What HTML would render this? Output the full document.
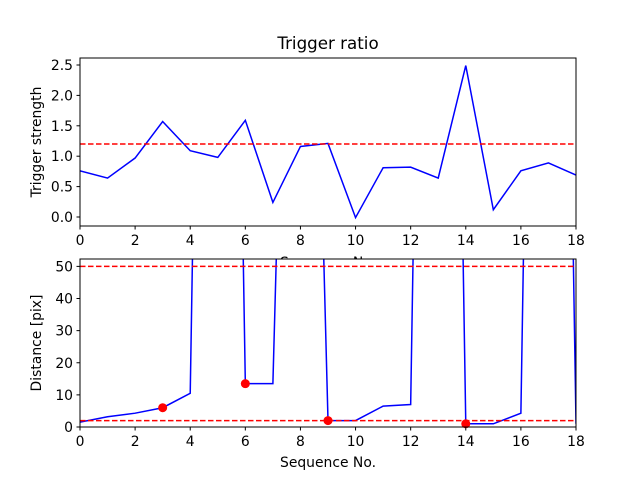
<!DOCTYPE html>
<html><head><meta charset="utf-8"><style>
body{margin:0;background:#fff}
svg{display:block;font-family:"DejaVu Sans","Liberation Sans",sans-serif}
</style></head><body>
<svg id="chart" width="640" height="480">
<defs>
<clipPath id="c1"><rect x="80" y="58" width="496" height="168"/></clipPath>
<clipPath id="c2"><rect x="80" y="259" width="496" height="168"/></clipPath>
</defs>
</svg>
<script>
const seq = [0,1,2,3,4,5,6,7,8,9,10,11,12,13,14,15,16,17,18];
const strength = [0.76,0.64,0.97,1.57,1.09,0.98,1.59,0.24,1.16,1.21,-0.01,0.81,0.82,0.64,2.49,0.12,0.76,0.89,0.69];
const strengthThreshold = [1.2];
const distance = [1.5,3.2,4.3,6,10.5,530,13.5,13.5,330,2,2,6.5,7,530,1,1,4.3,530,1];
const markerIdx = [3,6,9,14];
const distThresholds = [50,2];
const xTicks = [0,2,4,6,8,10,12,14,16,18];
const yTicksTop = [0,0.5,1,1.5,2,2.5];
const yTicksBot = [0,10,20,30,40,50];

const NS="http://www.w3.org/2000/svg";
const svg=document.getElementById('chart');
function mk(t,a,p){const e=document.createElementNS(NS,t);for(const k in a)e.setAttribute(k,a[k]);(p||svg).appendChild(e);return e;}
const L=80,R=576,FS=13.9;
const xs=v=>L+(v-0)/(18-0)*(R-L);

function panel(top,ymin,ymax,name){
  const bot=top+168;
  const ys=v=>bot-(v-ymin)/(ymax-ymin)*168;
  const g=mk('g',{});
  
  
  mk('rect',{x:L,y:top,width:R-L,height:168,fill:'#fff'},g);
  return {g,ys,bot,top};
}
function axes(p,yt,fmt,ylabel,name){
  const g=p.g;
  mk('rect',{x:L,y:p.top,width:R-L,height:168,fill:'none',stroke:'#000','stroke-width':1},g);
  xTicks.forEach(t=>{
    const x=xs(t);
    mk('line',{x1:x,x2:x,y1:p.bot,y2:p.bot+3.5,stroke:'#000'},g);
    const tx=mk('text',{x:x,y:p.bot+19,'font-size':FS,'text-anchor':'middle'},g);
    
    
    tx.textContent=t;
  });
  yt.forEach(t=>{
    const y=p.ys(t);
    mk('line',{x1:L-3.5,x2:L,y1:y,y2:y,stroke:'#000'},g);
    const tx=mk('text',{x:L-7,y:y+5,'font-size':FS,'text-anchor':'end'},g);
    
    
    tx.textContent=fmt(t);
  });
  const yl=mk('text',{x:0,y:0,'font-size':FS,'text-anchor':'middle',transform:`translate(41,${p.top+84}) rotate(-90)`},g);
  
  
  yl.textContent=ylabel;
}
const p1=panel(58,-0.148,2.615,'trigger-panel');
const xl1=mk('text',{x:328,y:267,'font-size':FS,'text-anchor':'middle'});


xl1.textContent='Sequence No.';
let d=seq.map((s,i)=>(i?'L':'M')+xs(s)+','+p1.ys(strength[i])).join('');
const l1=mk('path',{d,fill:'none',stroke:'#0000ff','stroke-width':1.5,'clip-path':'url(#c1)'},p1.g);


strengthThreshold.forEach(v=>{
  const h=mk('line',{x1:L,x2:R,y1:p1.ys(v),y2:p1.ys(v),stroke:'#ff0000','stroke-width':1.5,'stroke-dasharray':'5.5,2.5'},p1.g);
  
  
});
axes(p1,yTicksTop,v=>v.toFixed(1),'Trigger strength','top-y-axis-title');
const title=mk('text',{x:328,y:49,'font-size':16.7,'text-anchor':'middle'});


title.textContent='Trigger ratio';

const p2=panel(259,0,52.3,'distance-panel');
d=seq.map((s,i)=>(i?'L':'M')+xs(s)+','+p2.ys(distance[i])).join('');
const l2=mk('path',{d,fill:'none',stroke:'#0000ff','stroke-width':1.5,'clip-path':'url(#c2)'},p2.g);


distThresholds.forEach(v=>{
  const h=mk('line',{x1:L,x2:R,y1:p2.ys(v),y2:p2.ys(v),stroke:'#ff0000','stroke-width':1.5,'stroke-dasharray':'5.5,2.5'},p2.g);
  
  
});
markerIdx.forEach(i=>{
  const c=mk('circle',{cx:xs(seq[i]),cy:p2.ys(distance[i]),r:4.5,fill:'#ff0000'},p2.g);
  
  
});
axes(p2,yTicksBot,v=>String(v),'Distance [pix]','bottom-y-axis-title');
const xl2=mk('text',{x:328,y:467,'font-size':FS,'text-anchor':'middle'});


xl2.textContent='Sequence No.';
</script>
</body></html>
